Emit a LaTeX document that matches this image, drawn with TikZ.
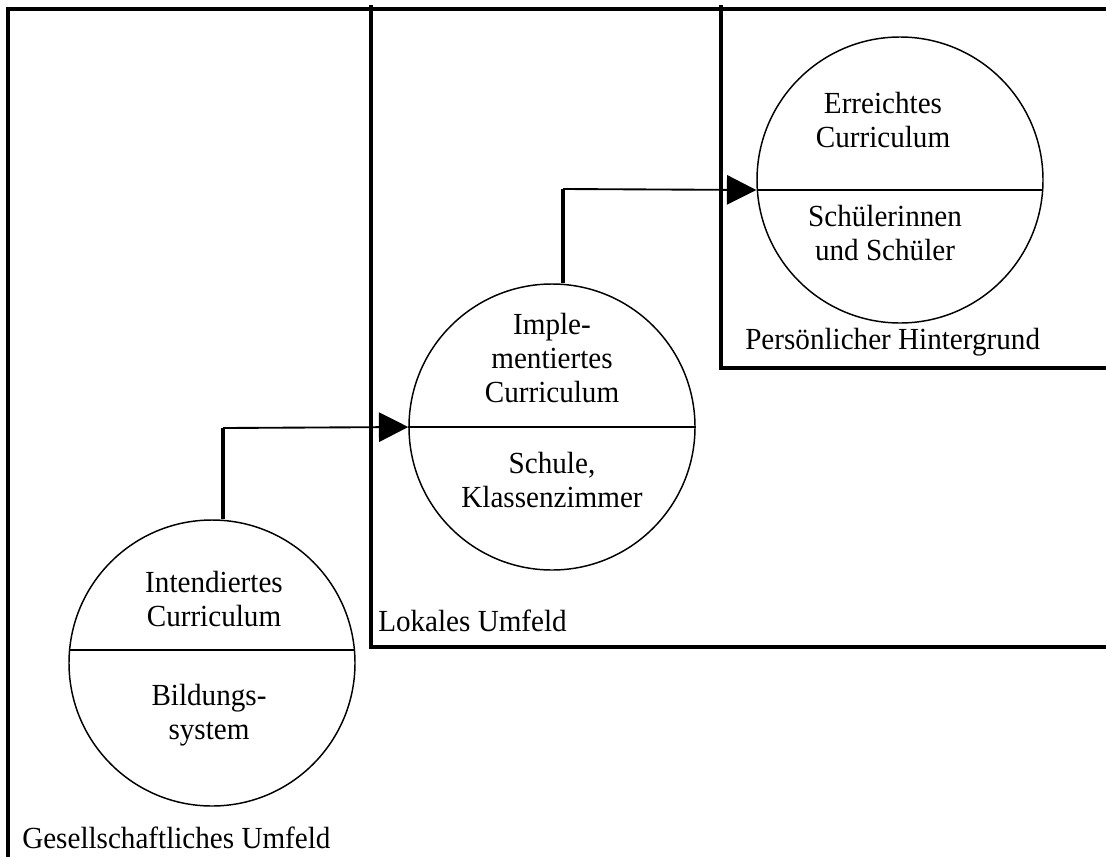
\documentclass[tikz,border=0pt]{standalone}
\usepackage{fontspec}
\setmainfont{Liberation Serif}[FakeStretch=0.95]
\usetikzlibrary{arrows.meta,calc}
\begin{document}
\begin{tikzpicture}[x=0.75pt,y=-0.75pt,
  frame/.style={line width=2.7pt},
  ring/.style={circle,draw,line width=1.1pt,minimum size=214.5pt,inner sep=0pt,fill=white},
  divider/.style={line width=2.2pt},
  stem/.style={line width=2.6pt},
  link/.style={line width=1.4pt,-{Triangle[length=22pt,width=22pt]}},
  txt/.style={font=\fontsize{23}{25.5}\selectfont,align=center,inner sep=0pt},
  lbl/.style={font=\fontsize{23}{25.5}\selectfont,anchor=west,inner sep=0pt}]
\useasboundingbox (0,0) rectangle (1106,857);
% frames
\coordinate (o1) at (8,857);
\coordinate (o2) at (8,9);
\coordinate (o3) at (1106,9);
\draw[frame] (o1) -- (o2) -- (o3);
\coordinate (m1) at (371,5);
\coordinate (m2) at (371,647);
\coordinate (m3) at (1106,647);
\draw[frame] (m1) -- (m2) -- (m3);
\coordinate (p1) at (721,5);
\coordinate (p2) at (721,368);
\coordinate (p3) at (1106,368);
\draw[frame] (p1) -- (p2) -- (p3);
% circles
\node[ring] (c1) at (212,663) {};
\node[ring] (c2) at (552,427) {};
\node[ring] (c3) at (900,180) {};
\draw[divider] ([shift={(-142.4,-13)}]c1.center) -- ([shift={(142.4,-13)}]c1.center);
\draw[divider] (c2.west) -- (c2.east);
\draw[divider] ([shift={(-142.6,10)}]c3.center) -- ([shift={(142.6,10)}]c3.center);
% connectors
\coordinate (k1) at (223,428);
\coordinate (k2) at (563,189);
\draw[stem] (c1.north -| k1) -- (k1);
\draw[link] (k1) -- (c2.west);
\draw[stem] (c2.north -| k2) -- (k2);
\draw[link] (k2) -- ([shift={(0,10)}]c3.west);
% texts
\node[txt] (t3a) at (883,120) {Erreichtes\\Curriculum};
\node[txt] (t3b) at (885,233) {Schülerinnen\\und Schüler};
\node[txt] (t2a) at (552,358) {Imple-\\mentiertes\\Curriculum};
\node[txt] (t2b) at (552,480) {Schule,\\Klassenzimmer};
\node[txt] (t1a) at (214,599) {Intendiertes\\Curriculum};
\node[txt] (t1b) at (209,715) {Bildungs-\\system};
\node[lbl] (l3) at (745,342) {Persönlicher Hintergrund};
\node[lbl] (l2) at (378,621) {Lokales Umfeld};
\node[lbl] (l1) at (22,838) {Gesellschaftliches Umfeld};
\end{tikzpicture}
\end{document}
